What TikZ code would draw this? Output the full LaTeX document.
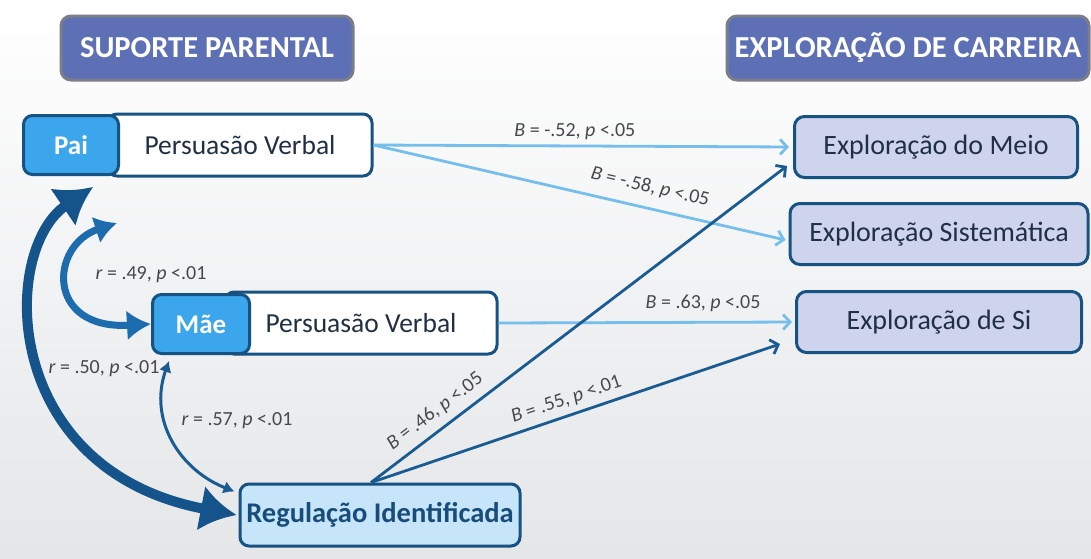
\documentclass[tikz,border=0pt]{standalone}
\usepackage{fontspec}
\setmainfont{Carlito}
\usetikzlibrary{positioning,arrows.meta}
\definecolor{hdrfill}{RGB}{94,112,181}
\definecolor{hdrline}{RGB}{122,126,138}
\definecolor{tagfill}{RGB}{59,166,236}
\definecolor{boxline}{RGB}{22,82,130}
\definecolor{boxtext}{RGB}{32,48,68}
\definecolor{regfill}{RGB}{198,229,249}
\definecolor{regtext}{RGB}{24,76,122}
\definecolor{outfill}{RGB}{206,212,235}
\definecolor{lightarr}{RGB}{118,190,236}
\definecolor{darkarr}{RGB}{26,92,146}
\definecolor{bigarr}{RGB}{20,84,138}
\definecolor{midarr}{RGB}{28,108,174}
\definecolor{coeftext}{RGB}{70,72,76}
\definecolor{bgbot}{RGB}{228,230,232}

\begin{document}
\begin{tikzpicture}[x=1pt, y=-1pt,
                      hdr/.style = {shape=rectangle, rounded corners=10pt,
                        draw=hdrline, line width=3pt, fill=hdrfill, text=white,
                        font=\fontsize{30.5}{34}\selectfont\bfseries,
                        minimum height=64pt},
                      varbox/.style = {shape=rectangle, rounded corners=9pt,
                        draw=boxline, line width=3pt, fill=white, text=boxtext,
                        font=\fontsize{27.5}{32}\selectfont,
                        minimum height=62pt},
                      tag/.style = {shape=rectangle, rounded corners=9pt,
                        draw=boxline, line width=3pt, fill=tagfill, text=white,
                        font=\fontsize{27}{32}\selectfont\bfseries,
                        minimum height=59pt},
                      outbox/.style = {shape=rectangle, rounded corners=10pt,
                        draw=boxline, line width=3pt, fill=outfill, text=boxtext,
                        font=\fontsize{28}{32}\selectfont,
                        minimum height=61pt},
                      coef/.style = {text=coeftext, inner sep=1pt,
                        font=\fontsize{20}{24}\selectfont},
                      weak/.style = {draw=lightarr, line width=2.8pt,
                        -{Straight Barb[length=7pt,width=15pt]}},
                      strong/.style = {draw=darkarr, line width=2.8pt,
                        -{Straight Barb[length=7pt,width=15pt]}}]
  \shade[top color=white, bottom color=bgbot] (0,0) rectangle (1091,558);
  \useasboundingbox (0,0) rectangle (1091,558);

  % headers
  \node[hdr, minimum width=292pt] (suporte) at (207,48) {SUPORTE PARENTAL};
  \node[hdr, minimum width=362pt] (carreira) at (908,48) {EXPLORAÇÃO DE CARREIRA};

  % parents
  \node[varbox, minimum width=264pt] (paiverb) at (240,145) {Persuasão Verbal};
  \node[tag, minimum width=95pt] (pai) at (71,145) {Pai};
  \node[varbox, minimum width=272pt] (maeverb) at (361,323) {Persuasão Verbal};
  \node[tag, minimum width=97pt] (mae) at (201,324) {Mãe};
  \node[varbox, fill=regfill, text=regtext, font=\fontsize{28.5}{32}\selectfont\bfseries,
        minimum width=280pt] (reg) at (380,515) {Regulação Identificada};

  % outcomes
  \node[outbox, minimum width=283pt] (meio) at (936,147) {Exploração do Meio};
  \node[outbox, minimum width=298pt] (sist) at (939,234) {Exploração Sistemática};
  \node[outbox, minimum width=285pt] (si) at (939,322) {Exploração de Si};

  \coordinate (regtop) at ([xshift=-9pt]reg.north);
  \coordinate (meioin) at ([xshift=-6pt,yshift=-19pt]meio.west);
  \coordinate (sistin) at ([xshift=-3pt,yshift=-6pt]sist.west);
  \coordinate (siin) at ([xshift=-15pt,yshift=-22pt]si.west);

  \draw[weak, shorten >=4pt] (paiverb.east) -- (meio.west)
    node[coef, pos=.48, above=4pt] {\textit{B} = -.52, \textit{p} <.05};
  \draw[weak] (paiverb.east) -- (sistin)
    node[coef, pos=.66, sloped, above=10pt] {\textit{B} = -.58, \textit{p} <.05};
  \draw[weak, shorten >=3pt] (maeverb.east) -- (si.west)
    node[coef, pos=.69, above=8pt] {\textit{B} = .63, \textit{p} <.05};
  \draw[strong] (regtop) -- (meioin)
    node[coef, pos=.18, sloped, above=7pt] {\textit{B} = .46, \textit{p} <.05};
  \draw[strong] (regtop) -- (siin)
    node[coef, pos=.49, sloped, above=5pt] {\textit{B} = .55, \textit{p} <.01};

  % correlations
  \coordinate (paitip) at ([xshift=22pt,yshift=-11pt]pai.south);
  \coordinate (paitip2) at ([xshift=46pt,yshift=-47pt]pai.south);
  \coordinate (maetip) at ([xshift=18pt,yshift=-6pt]mae.south west);
  \coordinate (regtip) at ([xshift=-4pt,yshift=-9pt]reg.north west);

  \draw[bigarr, line width=10pt,
        {Latex[length=36pt,width=46pt]}-{Latex[length=36pt,width=46pt]}]
    (paitip) .. controls (0,250) and (0,470) .. ([xshift=-2pt]reg.west);
  \draw[midarr, line width=7pt,
        {Latex[length=22pt,width=28pt]}-{Latex[length=24pt,width=30pt]}]
    (paitip2) .. controls (50,245) and (45,330) .. (mae.west);
  \draw[darkarr, line width=3pt,
        {Latex[length=11pt,width=13pt]}-{Latex[length=11pt,width=13pt]}]
    (maetip) .. controls (148,420) and (180,470) .. (regtip);

  \node[coef] (r49) at (151,275) {\textit{r} = .49, \textit{p} <.01};
  \node[coef] (r50) at (104,369) {\textit{r} = .50, \textit{p} <.01};
  \node[coef] (r57) at (237,421) {\textit{r} = .57, \textit{p} <.01};
\end{tikzpicture}
\end{document}
